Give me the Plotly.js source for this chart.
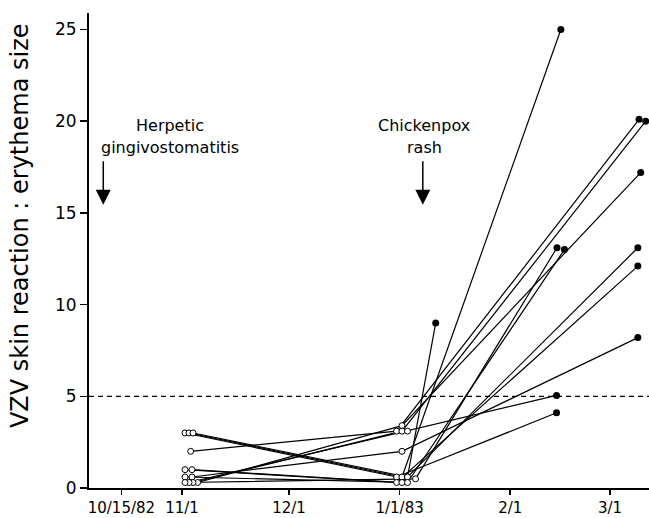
<!DOCTYPE html>
<html><head><meta charset="utf-8">
<script src="https://cdn.plot.ly/plotly-3.0.1.min.js"></script>
<style>html,body{margin:0;padding:0;background:#fff}#chart{width:649px;height:518px}</style>
</head><body><div id="chart"></div>
<script>
// ---- data ----
const subjects = ['A','B','C','D','E','F','G','H','I','J','K','L'];

// first skin test (around 11/1/82)
const firstTestDates = ['1982-11-01 20:00','1982-11-02 23:00','1982-11-04 02:00','1982-11-03 10:00',
  '1982-11-03 19:00','1982-11-05 09:00','1982-11-04 02:00','1982-11-02 23:00',
  '1982-11-01 20:00','1982-11-03 19:00','1982-11-01 20:00','1982-11-01 20:00'];
const firstTestValues = [3, 3, 3, 2, 0.6, 0.3, 0.3, 0.3, 1, 1, 0.6, 0.3];

// second skin test (around 1/1/83)
const secondTestDates = ['1982-12-31 04:00','1983-01-01 16:00','1983-01-03 05:00','1982-12-31 04:00',
  '1983-01-01 16:00','1983-01-01 16:00','1983-01-01 16:00','1983-01-03 05:00',
  '1982-12-31 04:00','1983-01-01 16:00','1983-01-03 05:00','1983-01-05 11:00'];
const secondTestValues = [0.6, 0.6, 0.6, 3.1, 2, 3.4, 3.1, 3.1, 0.3, 0.3, 0.3, 0.5];

// test after chickenpox
const finalTestDates = ['1983-02-14 00:00','1983-02-15 05:00','1983-01-11 03:00','1983-03-09 03:00',
  '1983-03-08 19:00','1983-03-09 14:00','1983-03-11 00:00','1983-02-14 00:00',
  '1983-03-08 19:00','1983-03-08 19:00','1983-02-16 05:00','1983-02-14 03:00'];
const finalTestValues = [4.1, 25, 9, 20.1, 8.2, 17.2, 20, 5.05, 12.1, 13.1, 13, 13.1];

const thresholdValue = 5;
const tickDates = ['1982-10-15','1982-11-01','1982-12-01','1983-01-01','1983-02-01','1983-03-01'];
const tickLabels = ['10/15/82','11/1','12/1','1/1/83','2/1','3/1'];
const yTicks = [0, 5, 10, 15, 20, 25];
const yTitle = 'VZV skin reaction : erythema size';
const eventLines = [['Herpetic','gingivostomatitis'], ['Chickenpox','rash']];
const eventArrowDates = ['1982-10-09 22:00', '1983-01-07 12:00'];
const eventTextDates = ['1982-10-28 14:00', '1983-01-07 23:00'];

// ---- traces ----
const traces = [];
subjects.forEach((s, i) => {
  traces.push({
    type: 'scatter', mode: 'lines', name: s,
    x: [firstTestDates[i], secondTestDates[i], finalTestDates[i]],
    y: [firstTestValues[i], secondTestValues[i], finalTestValues[i]],
    line: {color: '#000', width: 1.2},
    hoverinfo: 'skip', showlegend: false, cliponaxis: false
  });
});
traces.push({
  type: 'scatter', mode: 'markers',
  x: firstTestDates.concat(secondTestDates),
  y: firstTestValues.concat(secondTestValues),
  marker: {symbol: 'circle', size: 6, color: '#fff', line: {color: '#000', width: 1}},
  showlegend: false, cliponaxis: false
});
traces.push({
  type: 'scatter', mode: 'markers',
  x: finalTestDates, y: finalTestValues,
  marker: {symbol: 'circle', size: 7, color: '#000', line: {color: '#000', width: 0}},
  showlegend: false, cliponaxis: false
});

// ---- annotations ----
const annotations = [];
eventLines.forEach((lines, k) => {
  annotations.push({x: eventTextDates[k], y: 19.75, xref: 'x', yref: 'y', text: lines[0],
    showarrow: false, xanchor: 'center', yanchor: 'middle', font: {size: 16, color: '#000'}});
  annotations.push({x: eventTextDates[k], y: 18.55, xref: 'x', yref: 'y', text: lines[1],
    showarrow: false, xanchor: 'center', yanchor: 'middle', font: {size: 16, color: '#000'}});
  annotations.push({x: eventArrowDates[k], y: 15.45, xref: 'x', yref: 'y', text: '',
    showarrow: true, axref: 'x', ayref: 'y', ax: eventArrowDates[k], ay: 17.9,
    arrowhead: 2, arrowsize: 2, arrowwidth: 1.5, arrowcolor: '#000', standoff: 0});
});
annotations.push({xref: 'paper', yref: 'paper', x: -0.123, y: 0.5516, text: yTitle, textangle: -90,
  showarrow: false, xanchor: 'center', yanchor: 'middle', font: {size: 24, color: '#000'}});

const layout = {
  width: 649, height: 518,
  margin: {l: 89, r: 0, t: 13, b: 30},
  paper_bgcolor: '#fff', plot_bgcolor: '#fff', showlegend: false,
  font: {family: 'DejaVu Sans', color: '#000', size: 16},
  xaxis: {type: 'date', range: ['1982-10-05 22:00', '1983-03-11 22:00'],
    tickmode: 'array', tickvals: tickDates, ticktext: tickLabels,
    ticks: 'outside', ticklen: 5, tickwidth: 1.5, tickcolor: '#000',
    showline: true, linewidth: 2, linecolor: '#000', showgrid: false, zeroline: false,
    tickfont: {size: 15, color: '#000'}, ticklabelstandoff: 0},
  yaxis: {range: [0, 25.9], tickmode: 'array', tickvals: yTicks,
    ticks: 'outside', ticklen: 7, tickwidth: 1.5, tickcolor: '#000',
    showline: true, linewidth: 2, linecolor: '#000', showgrid: false, zeroline: false,
    tickfont: {size: 17, color: '#000'}},
  shapes: [{type: 'line', xref: 'paper', x0: 0, x1: 1, yref: 'y', y0: thresholdValue, y1: thresholdValue,
    line: {color: '#000', width: 1.3, dash: '5px,4px'}}],
  annotations: annotations
};

Plotly.newPlot('chart', traces, layout, {staticPlot: true, displayModeBar: false});
</script></body></html>
